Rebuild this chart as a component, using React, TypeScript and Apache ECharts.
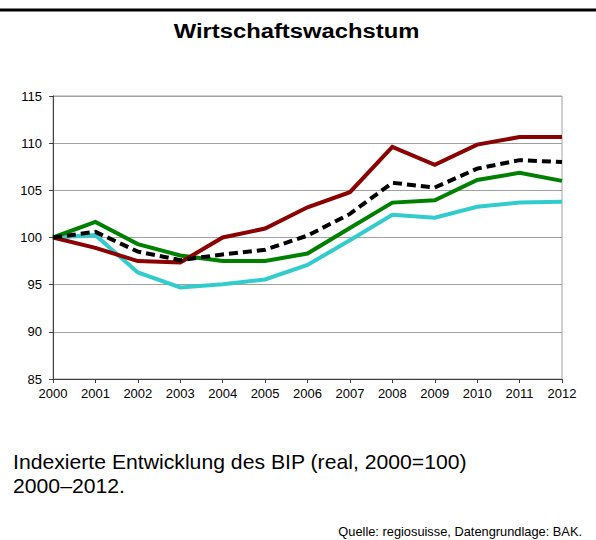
import React, { useEffect, useRef } from "react";
import * as echarts from "echarts";

const years = ["2000", "2001", "2002", "2003", "2004", "2005", "2006", "2007", "2008", "2009", "2010", "2011", "2012"];
const serieRot = [100, 98.9, 97.5, 97.35, 100.0, 100.95, 103.2, 104.8, 109.6, 107.7, 109.85, 110.65, 110.65];
const serieSchwarz = [100, 100.6, 98.5, 97.6, 98.2, 98.7, 100.2, 102.5, 105.8, 105.3, 107.3, 108.2, 108.0];
const serieGruen = [100, 101.65, 99.3, 98.1, 97.5, 97.5, 98.3, 101.0, 103.7, 103.95, 106.1, 106.85, 106.0];
const serieTuerkis = [100, 100.25, 96.3, 94.7, 95.05, 95.55, 97.1, 99.7, 102.4, 102.1, 103.25, 103.7, 103.8];
const yTicks = { min: 85, max: 115, interval: 5 };

const titleText = "Wirtschaftswachstum";
const noteLine1 = "Indexierte Entwicklung des BIP (real, 2000=100)";
const noteLine2 = "2000–2012.";
const sourceText = "Quelle: regiosuisse, Datengrundlage: BAK.";

const FONT = '"Liberation Sans", Arial, sans-serif';

export default function App() {
  const ref = useRef<HTMLDivElement>(null);
  useEffect(() => {
    if (!ref.current) return;
    const chart = echarts.init(ref.current, null, { renderer: "svg" });
    const lineSeries = (name: string, data: number[], color: string, dashed = false, z = 2) => ({
      name,
      type: "line",
      data,
      symbol: "none",
      z,
      lineStyle: {
        color,
        width: 4,
        type: dashed ? [9, 5] : "solid",
        cap: "butt",
        join: "miter",
      },
    });
    chart.setOption({
      animation: false,
      backgroundColor: "#ffffff",
      textStyle: { fontFamily: FONT },
      grid: {
        left: 53,
        right: 34,
        top: 96,
        bottom: 161,
        show: true,
        borderColor: "#a0a0a0",
        borderWidth: 1,
      },
      xAxis: {
        type: "category",
        data: years,
        boundaryGap: false,
        axisLine: { lineStyle: { color: "#404040", width: 1 } },
        axisTick: { show: true, length: 4, lineStyle: { color: "#404040" } },
        axisLabel: { color: "#000", fontSize: 13, margin: 8, fontFamily: FONT },
        splitLine: { show: false },
      },
      yAxis: {
        type: "value",
        min: yTicks.min,
        max: yTicks.max,
        interval: yTicks.interval,
        axisLine: { show: true, lineStyle: { color: "#404040", width: 1 } },
        axisTick: { show: true, length: 4, lineStyle: { color: "#404040" } },
        axisLabel: { color: "#000", fontSize: 13, margin: 11, fontFamily: FONT },
        splitLine: { show: true, lineStyle: { color: "#a0a0a0", width: 1 } },
      },
      series: [
        lineSeries("Türkis", serieTuerkis, "#33cccc", false, 2),
        lineSeries("Grün", serieGruen, "#008000", false, 3),
        lineSeries("Rot", serieRot, "#8b0000", false, 4),
        lineSeries("Schwarz", serieSchwarz, "#000000", true, 5),
      ],
      graphic: [
        {
          type: "line",
          shape: { x1: 0, y1: 10, x2: 596, y2: 10 },
          style: { stroke: "#000", lineWidth: 3 },
        },
        {
          type: "text",
          x: 296.5,
          y: 31,
          scaleX: 1.19,
          style: {
            text: titleText,
            font: `bold 20px ${FONT}`,
            fill: "#000",
            textAlign: "center",
            textVerticalAlign: "middle",
          },
        },
        {
          type: "text",
          x: 13,
          y: 462,
          scaleX: 1.06,
          style: {
            text: noteLine1,
            font: `20px ${FONT}`,
            fill: "#000",
            textAlign: "left",
            textVerticalAlign: "middle",
          },
        },
        {
          type: "text",
          x: 13,
          y: 486,
          scaleX: 1.06,
          style: {
            text: noteLine2,
            font: `20px ${FONT}`,
            fill: "#000",
            textAlign: "left",
            textVerticalAlign: "middle",
          },
        },
        {
          type: "text",
          x: 582,
          y: 532,
          scaleX: 1.07,
          style: {
            text: sourceText,
            font: `12px ${FONT}`,
            fill: "#000",
            textAlign: "right",
            textVerticalAlign: "middle",
          },
        },
      ],
    });
    return () => chart.dispose();
  }, []);
  return (
    <div
      ref={ref}
      style={{ position: "fixed", left: 0, top: 0, width: 596, height: 540, background: "#fff" }}
    />
  );
}
